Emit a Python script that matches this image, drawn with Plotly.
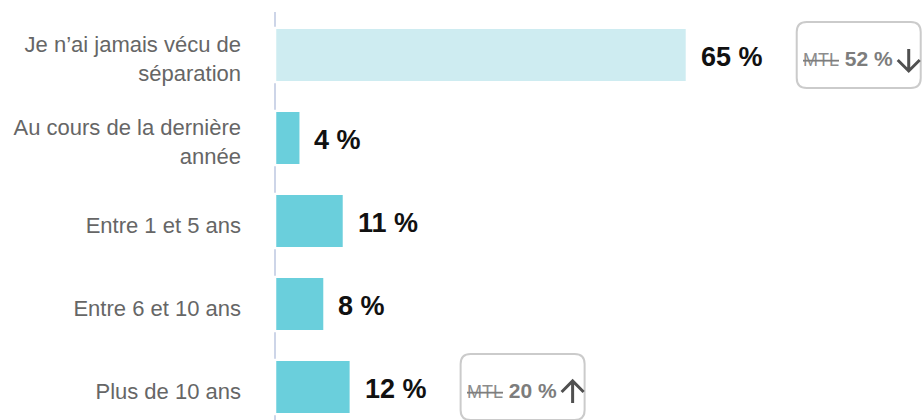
import plotly.graph_objects as go

categories = [
    "Je n’ai jamais vécu de<br>séparation",
    "Au cours de la dernière<br>année",
    "Entre 1 et 5 ans",
    "Entre 6 et 10 ans",
    "Plus de 10 ans",
]
values = [65.3, 3.7, 10.6, 7.5, 11.7]
value_labels = ["65 %", "4 %", "11 %", "8 %", "12 %"]
mtl_values = [52, None, None, None, 20]
bar_colors = ["#ceecf1", "#6acfdc", "#6acfdc", "#6acfdc", "#6acfdc"]

FONT = "Liberation Sans, Arial, Helvetica, sans-serif"
n = len(categories)
y_top, y_bottom = -0.518, n - 1 + 0.398

fig = go.Figure()
fig.add_trace(go.Bar(
    x=values, y=categories, orientation="h",
    marker=dict(color=bar_colors, line=dict(width=0)),
    hoverinfo="skip",
))

annotations = []
shapes = []

for i, (v, lab) in enumerate(zip(values, value_labels)):
    annotations.append(dict(
        x=v, y=categories[i], xref="x", yref="y", text=f"<b>{lab}</b>",
        showarrow=False, xanchor="left", yanchor="middle", xshift=13, yshift=-2,
        font=dict(family=FONT, size=27, color="#111111"),
    ))

BOX_OFF, BOX_W, BOX_H, R = 111, 124, 66, 10
ARW, ARH = 22, 22  # arrow icon size in px
for i, (v, m) in enumerate(zip(values, mtl_values)):
    if m is None:
        continue
    l, r_, t, b = BOX_OFF, BOX_OFF + BOX_W, BOX_H / 2, -BOX_H / 2
    path = (f"M {l+R},{b} L {r_-R},{b} Q {r_},{b} {r_},{b+R} L {r_},{t-R} "
            f"Q {r_},{t} {r_-R},{t} L {l+R},{t} Q {l},{t} {l},{t-R} "
            f"L {l},{b+R} Q {l},{b} {l+R},{b} Z")
    shapes.append(dict(
        type="path", xref="x", yref="y", xsizemode="pixel", ysizemode="pixel",
        xanchor=v, yanchor=i, path=path,
        line=dict(color="#cbcbcb", width=2), fillcolor="rgba(0,0,0,0)", layer="above",
    ))
    annotations.append(dict(
        x=v, y=categories[i], xref="x", yref="y",
        text=(f"<s><span style='font-size:18px;color:#8c8c8c'>MTL</span></s>"
              f"<b> {m} %</b>"),
        showarrow=False, xanchor="left", yanchor="middle", xshift=BOX_OFF + 4, yshift=-4,
        font=dict(family=FONT, size=21, color="#7d7d7d"),
    ))
    # arrow icon: down if MTL lower than value, up otherwise
    cx = BOX_OFF + BOX_W - 1 - ARW / 2
    cy = -5
    top, bot = cy + ARH / 2, cy - ARH / 2
    half = ARW / 2
    if m < v:
        apath = (f"M {cx},{top} L {cx},{bot} M {cx-half},{bot+half} "
                 f"L {cx},{bot} L {cx+half},{bot+half}")
    else:
        apath = (f"M {cx},{bot} L {cx},{top} M {cx-half},{top-half} "
                 f"L {cx},{top} L {cx+half},{top-half}")
    shapes.append(dict(
        type="path", xref="x", yref="y", xsizemode="pixel", ysizemode="pixel",
        xanchor=v, yanchor=i, path=apath,
        line=dict(color="#505050", width=3), layer="above",
    ))

# dashed axis segments between categories
for k in range(n + 1):
    bnd = k - 0.5
    y0 = max(bnd - 0.16, y_top)
    y1 = min(bnd + 0.16, y_bottom)
    shapes.append(dict(
        type="line", xref="paper", yref="y", x0=0, x1=0, y0=y0, y1=y1,
        line=dict(color="#cdd5e8", width=2), layer="above",
    ))

fig.update_layout(
    template="none",
    width=924, height=420,
    margin=dict(l=275, r=0, t=12, b=0, autoexpand=False),
    paper_bgcolor="white", plot_bgcolor="white",
    showlegend=False,
    bargap=0.373,
    xaxis=dict(range=[-0.2, 103.3], visible=False, fixedrange=True, automargin=False),
    yaxis=dict(
        categoryorder="array", categoryarray=categories,
        range=[y_bottom, y_top], automargin=False,
        showgrid=False, zeroline=False, showline=False, ticks="",
        ticklabelstandoff=33, ticklabelshift=-4,
        tickfont=dict(family=FONT, size=22, color="#666666"),
    ),
    annotations=annotations,
    shapes=shapes,
)

fig.write_html(
    "out.html",
    config={"displayModeBar": False},
    post_script="document.body.style.margin='0';document.body.style.overflow='hidden';",
)
